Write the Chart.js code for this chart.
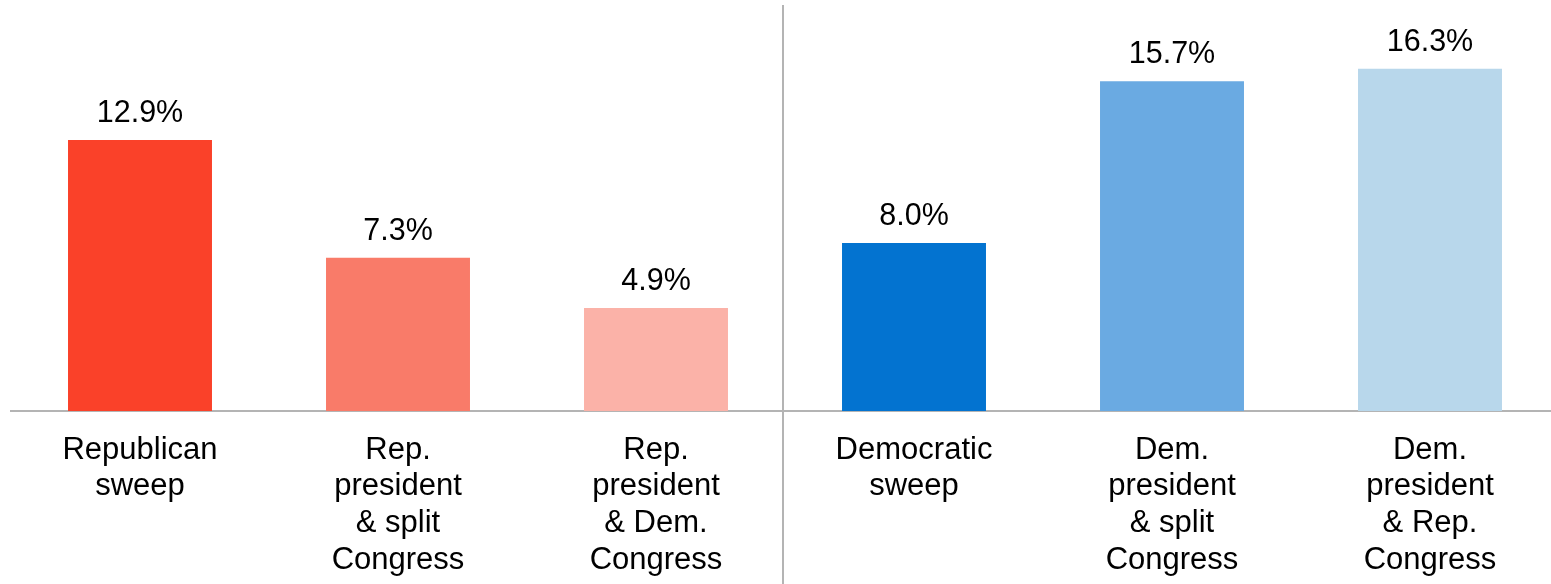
<!DOCTYPE html>
<html>
<head>
<meta charset="utf-8">
<script src="https://cdn.jsdelivr.net/npm/chart.js@4"></script>
<style>
  html, body { margin: 0; padding: 0; background: #fff; overflow: hidden; }
  #wrap { width: 1570px; height: 584px; }
</style>
</head>
<body>
<div id="wrap">
  <canvas id="sweepChart" width="1570" height="584"></canvas>
</div>
<script>
// categories (multi-line labels) and values, in percent
const categories = [
  ["Republican", "sweep"],
  ["Rep.", "president", "& split", "Congress"],
  ["Rep.", "president", "& Dem.", "Congress"],
  ["Democratic", "sweep"],
  ["Dem.", "president", "& split", "Congress"],
  ["Dem.", "president", "& Rep.", "Congress"]
];
const returns = [12.9, 7.3, 4.9, 8.0, 15.7, 16.3];
const barColors = ["#FA4129", "#F97B69", "#FBB2A8", "#0373D0", "#6AAAE2", "#B8D7EB"];

const FONT = "'Liberation Sans', Arial, sans-serif";

// value labels above each bar
const valueLabels = {
  id: "valueLabels",
  afterDatasetsDraw(chart) {
    const ctx = chart.ctx;
    const meta = chart.getDatasetMeta(0);
    ctx.save();
    ctx.font = "30.5px " + FONT;
    ctx.fillStyle = "#000";
    ctx.textAlign = "center";
    ctx.textBaseline = "alphabetic";
    meta.data.forEach((bar, i) => {
      ctx.fillText(returns[i].toFixed(1) + "%", bar.x, bar.y - 18);
    });
    ctx.restore();
  }
};

// vertical divider between Republican and Democratic groups
const divider = {
  id: "divider",
  afterDraw(chart) {
    const x = chart.scales.x;
    const px = (x.getPixelForValue(2) + x.getPixelForValue(3)) / 2 - 2;
    const ctx = chart.ctx;
    ctx.save();
    ctx.strokeStyle = "#b4b4b4";
    ctx.lineWidth = 2;
    ctx.beginPath();
    ctx.moveTo(px, chart.chartArea.top + 5);
    ctx.lineTo(px, chart.height);
    ctx.stroke();
    ctx.restore();
  }
};

const ctx = document.getElementById("sweepChart").getContext("2d");
new Chart(ctx, {
  type: "bar",
  data: {
    labels: categories,
    datasets: [{
      data: returns,
      backgroundColor: barColors,
      borderWidth: 0,
      barPercentage: 0.558,
      categoryPercentage: 1.0
    }]
  },
  options: {
    responsive: false,
    maintainAspectRatio: false,
    animation: false,
    layout: {
      padding: { top: 0, left: 11, right: 11, bottom: 0 }
    },
    plugins: {
      legend: { display: false },
      tooltip: { enabled: false }
    },
    scales: {
      x: {
        grid: { display: false, drawTicks: false },
        border: { display: true, color: "#b4b4b4", width: 2 },
        ticks: {
          color: "#000",
          font: { family: FONT, size: 31, lineHeight: 1.18 },
          padding: 21,
          maxRotation: 0,
          autoSkip: false
        },
        afterFit(scale) { scale.height = 173; }
      },
      y: {
        display: false,
        min: 0,
        max: 19.57
      }
    }
  },
  plugins: [valueLabels, divider]
});
</script>
</body>
</html>
